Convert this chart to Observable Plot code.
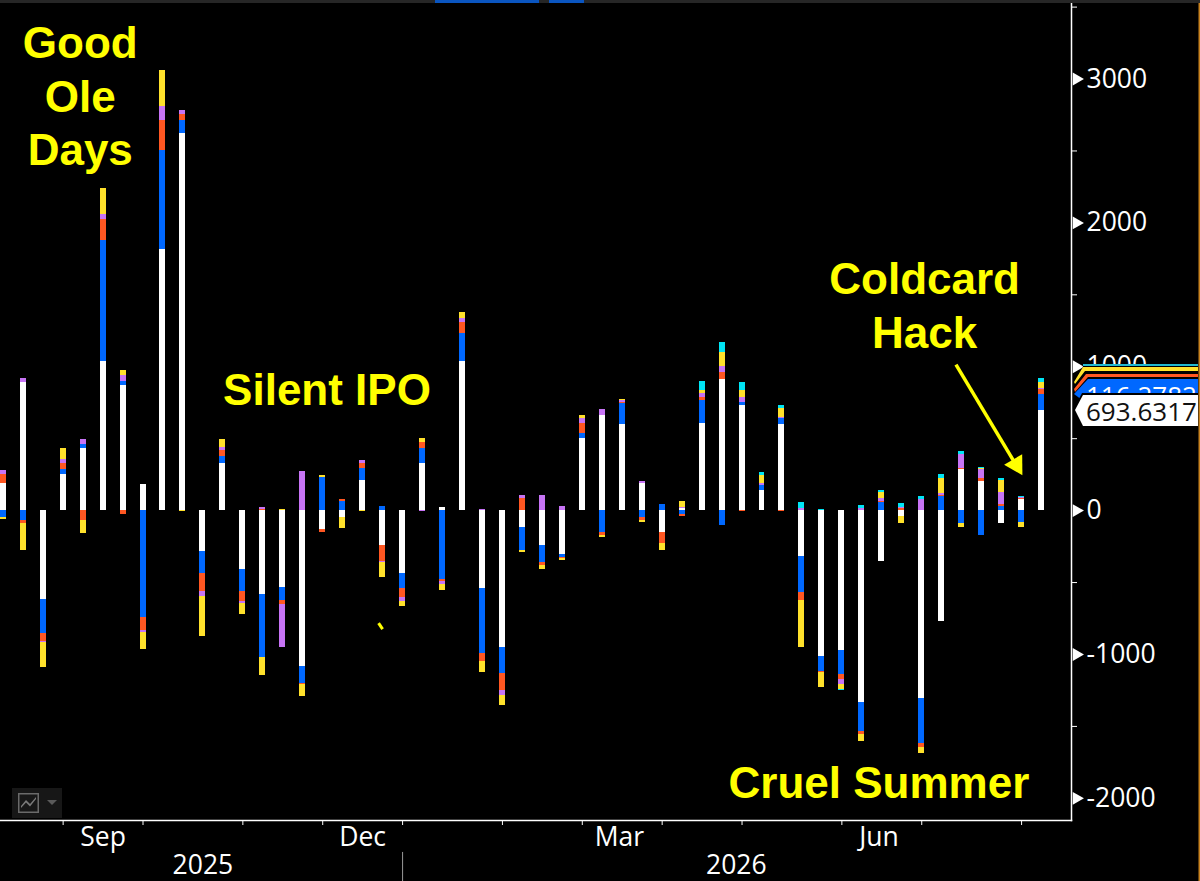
<!DOCTYPE html>
<html>
<head>
<meta charset="utf-8">
<script src="https://cdn.jsdelivr.net/npm/d3@7"></script>
<script src="https://cdn.jsdelivr.net/npm/@observablehq/plot@0.6"></script>
<style>
html,body{margin:0;padding:0;background:#000;overflow:hidden}
#page{position:relative;width:1200px;height:881px;overflow:hidden;background:#000}
#page svg{display:block}
.ov{position:absolute;left:0;top:0;width:1200px;height:881px}
.lbl{position:absolute;font:26px "Open Sans",sans-serif;white-space:nowrap;line-height:30px}
</style>
</head>
<body>
<div id="page"></div>
<script>
const seriesNames = ["IBIT","FBTC","BITB","ARKB","GBTC","Other"];
const seriesColors = ["#ffffff","#0068ff","#ff5722","#c774f5","#ffe12b","#00e5f5"];
const white = [190,891,-615,251,429,1037,870,179,1817,2624,-281,325,-406,-582,-531,-1086,-132,-49,211,-239,-436,327,21,1037,-541,-949,-114,-239,-302,503,659,596,190,-155,12,608,909,731,137,596,-322,-1012,-970,-1336,-355,-42,-1304,-773,283,200,-93,74,693.6317];
const blue = [-49,-72,-239,32,30,842,30,-740,689,90,-155,51,-155,-438,-95,-114,230,65,81,32,-104,104,-478,197,-450,-186,-165,-123,-21,32,-155,146,-51,42,-30,155,-102,21,39,42,-248,-104,-167,-197,53,0,-313,95,-93,-176,32,-84,116.2782];
const orange = [60,-19,-53,44,-72,148,-28,-95,207,42,-128,42,-74,9,-28,-12,-21,12,35,-116,-63,42,-12,72,-60,-118,86,-21,-12,72,-19,9,-19,-72,-12,21,51,-9,0,-9,-56,-12,-39,-21,12,12,-32,9,9,21,9,9,30];
const purple = [32,30,-12,30,32,32,42,-9,97,26,-30,21,-12,16,-295,271,0,0,19,-9,-30,-9,-21,32,9,-30,21,107,32,32,42,12,9,0,12,30,42,32,12,9,12,0,-32,12,21,12,74,12,95,63,84,9,12];
const yellow = [-12,-188,-174,72,-84,177,32,-123,251,-9,-281,53,-72,-125,9,-81,12,-74,-9,-104,-32,30,-42,42,-74,-72,-12,-23,-9,19,-12,12,-12,-53,39,23,95,53,53,63,-322,-102,-32,-51,39,-51,-39,104,-21,9,84,-30,42];
const cyan = [0,0,0,0,0,0,0,0,0,0,0,0,0,0,0,0,0,0,0,0,0,0,0,0,0,0,0,0,0,0,0,0,0,0,0,60,72,51,21,21,42,5,-9,21,12,28,21,30,21,9,12,9,21];
const allSeries = [white,blue,orange,purple,yellow,cyan];

const weeks = d3.utcFriday.range(new Date(Date.UTC(2025,7,15)), new Date(Date.UTC(2026,7,15)));
const monthTicks = ["2025-09-05","2025-10-03","2025-11-07","2025-12-05","2026-01-02","2026-02-06","2026-03-06","2026-04-03","2026-05-01","2026-06-05","2026-07-03","2026-08-07"].map(d=>new Date(d));
const monthLabels = [["Sep","2025-09-19"],["Dec","2025-12-19"],["Mar","2026-03-19"],["Jun","2026-06-18"]].map(([label,d])=>({label,date:new Date(d)}));
const yearLabels = [["2025","2025-10-24"],["2026","2026-04-29"]].map(([label,d])=>({label,date:new Date(d)}));
const yMajor = [3000,2000,1000,0,-1000,-2000];
const yMinor = [3500,2500,1500,500,-500,-1500];

const notes = [
  ["Good","2025-09-11",3243],["Ole","2025-09-11",2868],["Days","2025-09-11",2498],
  ["Silent IPO","2025-12-06T12:00Z",834],
  ["Coldcard","2026-07-04",1607],["Hack","2026-07-04",1231],
  ["Cruel Summer","2026-06-18",-1897]
].map(([text,d,value])=>({text,date:new Date(d),value}));

const rows = weeks.flatMap((date,i)=>seriesNames.map((series,s)=>({date,series,value:allSeries[s][i]})));
const day = 864e5, half = 1.05*day;

const chart = Plot.plot({
  width:1200,height:881,marginLeft:0,marginRight:129,marginTop:3,marginBottom:61,
  style:{background:"#000",color:"#fff",fontFamily:"'Open Sans',sans-serif",overflow:"hidden"},
  x:{type:"utc",domain:[new Date(Date.UTC(2025,7,14,1)),new Date(Date.UTC(2026,7,24,12))],axis:null},
  y:{domain:[-2154,3525],axis:null},
  color:{domain:seriesNames,range:seriesColors},
  marks:[
    Plot.rect(rows,Plot.stackY({x:"date",x1:d=>new Date(+d.date-half),x2:d=>new Date(+d.date+half),y:"value",z:"series",order:seriesNames,fill:"series",shapeRendering:"crispEdges"})),
    Plot.link([{x1:new Date("2025-12-24T14:00Z"),x2:new Date("2025-12-26T00:00Z"),y1:-782,y2:-824}],{x1:"x1",x2:"x2",y1:"y1",y2:"y2",stroke:"#ffff00",strokeWidth:3}),
    Plot.frame({anchor:"right",stroke:"#fff",strokeWidth:1.5}),
    Plot.frame({anchor:"bottom",stroke:"#fff",strokeWidth:1.5}),
    Plot.axisX(monthTicks,{anchor:"bottom",tickSize:5,stroke:"#fff",tickFormat:()=>"",label:null}),
    Plot.text(monthLabels,{x:"date",text:"label",frameAnchor:"bottom",dy:25,fontSize:26.5,fill:"#fff"}),
    Plot.text(yearLabels,{x:"date",text:"label",frameAnchor:"bottom",dy:53,fontSize:26.5,fill:"#fff"}),
    Plot.ruleX([new Date("2026-01-02")],{y1:-2376,y2:-2585,stroke:"#999",strokeWidth:1}),
    Plot.axisY(yMinor,{anchor:"right",tickSize:5,stroke:"#fff",tickFormat:()=>"",label:null}),
    Plot.dot(yMajor,{y:d=>d,frameAnchor:"right",dx:5,symbol:"triangle",rotate:90,r:4.8,fill:"#fff",stroke:"none"}),
    Plot.axisY(yMajor,{anchor:"right",tickSize:0,tickPadding:15,tickFormat:d=>String(d),fontSize:26.5,fill:"#fff",label:null}),
    Plot.text(notes,{x:"date",y:"value",text:"text",fontFamily:"'Liberation Sans',Arial,sans-serif",fontWeight:"bold",fontSize:44,fill:"#ffff00",lineAnchor:"middle"}),
    Plot.link([{x1:new Date("2026-07-15"),x2:new Date("2026-08-05"),y1:1015,y2:319}],{x1:"x1",x2:"x2",y1:"y1",y2:"y2",stroke:"#ffff00",strokeWidth:3.5}),
    Plot.dot([{x:new Date("2026-08-05T03:00Z"),y:319}],{x:"x",y:"y",symbol:"triangle",rotate:149.4,r:7.8,fill:"#ffff00",stroke:"none"})
  ]
});
const page = document.getElementById("page");
page.appendChild(chart);

function poly(color,pts){
  const d=document.createElement("div");d.className="ov";d.style.background=color;
  d.style.clipPath="polygon("+pts.map(p=>p[0]+"px "+p[1]+"px").join(",")+")";
  page.appendChild(d);return d;
}
function label(text,x,y,color,h){
  const d=document.createElement("div");d.className="lbl";d.textContent=text;
  d.style.left=x+"px";d.style.top=y+"px";d.style.color=color;
  if(h){d.style.height=h+"px";d.style.overflow="hidden";}
  page.appendChild(d);return d;
}
// last-value tags, back to front
poly("#000",[[1083,366],[1198,366],[1198,396],[1076,396]]);
poly("#22b8cf",[[1083,364],[1198,364],[1198,366],[1083,366]]);
poly("#ffe12b",[[1083,367],[1198,367],[1198,371],[1085,371],[1075,384],[1074,382]]);
poly("#ff5722",[[1086,374],[1198,374],[1198,377],[1088,377],[1075,392],[1074,389]]);
poly("#0068ff",[[1088,379],[1198,379],[1198,396],[1082,400],[1074,394]]);
label(blue[52].toFixed(4),1086,380,"#fff",13);
poly("#000",[[1082,393],[1198,393],[1198,428],[1082,428],[1073,410]]);
poly("#fff",[[1083,395],[1198,395],[1198,426],[1083,426],[1075,410]]);
label(white[52].toFixed(4),1086,396,"#111");
// window chrome
const bar=document.createElement("div");bar.className="ov";bar.style.height="3px";bar.style.background="#262626";page.appendChild(bar);
poly("#0a55c0",[[435,0],[539,0],[539,3],[435,3]]);
poly("#0a55c0",[[549,0],[584,0],[584,3],[549,3]]);
poly("#c8821e",[[1198.5,3],[1200,3],[1200,881],[1198.5,881]]);
// chart type button
poly("#171717",[[12,788],[62,788],[62,818],[12,818]]);
poly("#6a6a6a",[[18,793],[39,793],[39,813],[18,813]]);
poly("#171717",[[19.5,794.5],[37.5,794.5],[37.5,811.5],[19.5,811.5]]);
poly("#7a7a7a",[[21,806],[26,800],[30,804],[36,797],[36,799],[30,806.5],[26,802.5],[21,808]]);
poly("#5a5a5a",[[47,800],[57,800],[52,805]]);
</script>
</body>
</html>
